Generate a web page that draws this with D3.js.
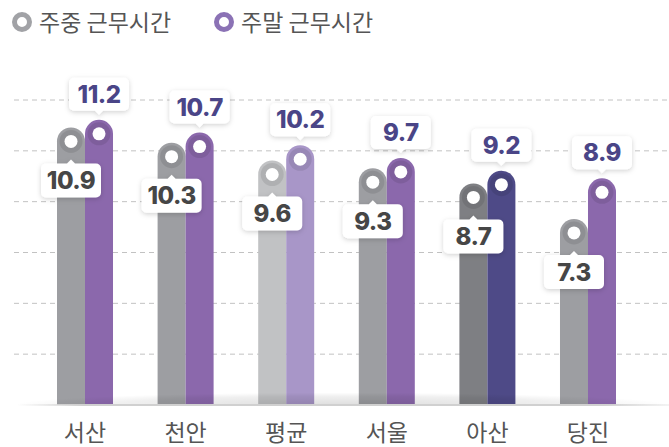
<!DOCTYPE html>
<html>
<head>
<meta charset="utf-8">
<script src="https://cdn.jsdelivr.net/npm/d3@7/dist/d3.min.js"></script>
<style>
  html, body { margin: 0; padding: 0; background: #ffffff; }
  svg { display: block; }
</style>
</head>
<body>
<script>
// ---- data ----
const categories = ['서산', '천안', '평균', '서울', '아산', '당진'];
const weekdayHours = [10.9, 10.3, 9.6, 9.3, 8.7, 7.3];
const weekendHours = [11.2, 10.7, 10.2, 9.7, 9.2, 8.9];
const seriesNames = ['주중 근무시간', '주말 근무시간'];
const gridTicks = [2, 4, 6, 8, 10, 12];

// ---- styles ----
const weekdayColors = ['#9d9ea2', '#9d9ea2', '#c1c2c4', '#9d9ea2', '#7e7f83', '#9d9ea2'];
const weekendColors = ['#8b68ac', '#8b68ac', '#a896c8', '#8b68ac', '#4e4a87', '#8b68ac'];
const legendColors = ['#a1a2a6', '#8b72b5'];

const W = 669, H = 447;
const svg = d3.select('body').append('svg').attr('width', W).attr('height', H);
const defs = svg.append('defs');

const shadow = defs.append('filter').attr('id', 'shadow')
  .attr('x', '-30%').attr('y', '-30%').attr('width', '160%').attr('height', '170%');
shadow.append('feDropShadow').attr('dx', 0).attr('dy', 1.5).attr('stdDeviation', 2.5)
  .attr('flood-color', '#000').attr('flood-opacity', 0.18);

const ground = defs.append('radialGradient').attr('id', 'ground')
  .attr('cx', '50%').attr('cy', '100%').attr('r', '50%');
ground.append('stop').attr('offset', '0%').attr('stop-color', '#000').attr('stop-opacity', 0.13);
ground.append('stop').attr('offset', '70%').attr('stop-color', '#000').attr('stop-opacity', 0.06);
ground.append('stop').attr('offset', '100%').attr('stop-color', '#000').attr('stop-opacity', 0);

const baseGrad = defs.append('linearGradient').attr('id', 'baseline').attr('x1', '0%').attr('x2', '100%');
baseGrad.append('stop').attr('offset', '0%').attr('stop-color', '#d8d8d8').attr('stop-opacity', 0);
baseGrad.append('stop').attr('offset', '10%').attr('stop-color', '#d0d0d0').attr('stop-opacity', 1);
baseGrad.append('stop').attr('offset', '90%').attr('stop-color', '#d0d0d0').attr('stop-opacity', 1);
baseGrad.append('stop').attr('offset', '100%').attr('stop-color', '#d8d8d8').attr('stop-opacity', 0.3);

// ---- scales ----
const x = d3.scaleBand().domain(categories).range([34.7, 638.3])
  .paddingInner(0.4433).paddingOuter(0.2217);
const xs = d3.scaleBand().domain([0, 1]).range([0, x.bandwidth()]);
const y = d3.scaleLinear().domain([0, 12]).range([404.5, 99.5]);

// ---- grid ----
const grid = svg.append('g').attr('transform', 'translate(14,0)')
  .call(d3.axisRight(y).tickValues(gridTicks).tickSize(W - 14).tickFormat(''));
grid.select('.domain').remove();
grid.selectAll('.tick line').attr('stroke', '#c2c2c2').attr('stroke-dasharray', '5,4').attr('stroke-width', 1);

// ---- bars ----
function barPath(x0, w, top, base) {
  const r = w / 2;
  return `M${x0},${base}L${x0},${top + r}A${r},${r} 0 0 1 ${x0 + w},${top + r}L${x0 + w},${base}Z`;
}

const rows = categories.map((c, i) => ({
  cat: c,
  vals: [
    { s: 0, v: weekdayHours[i], color: weekdayColors[i] },
    { s: 1, v: weekendHours[i], color: weekendColors[i] }
  ]
}));

const groups = svg.append('g').selectAll('g').data(rows).join('g')
  .attr('transform', d => `translate(${x(d.cat)},0)`);

const bw = xs.bandwidth();
groups.selectAll('path.bar').data(d => d.vals).join('path')
  .attr('class', 'bar')
  .attr('d', d => barPath(xs(d.s), bw, y(d.v), y(0)))
  .attr('fill', d => d.color);

// halo + marker
groups.selectAll('circle.halo').data(d => d.vals).join('circle')
  .attr('class', 'halo')
  .attr('cx', d => xs(d.s) + bw / 2).attr('cy', d => y(d.v) + bw / 2)
  .attr('r', 11.5).attr('fill', '#000').attr('fill-opacity', 0.09);
groups.selectAll('circle.dot').data(d => d.vals).join('circle')
  .attr('class', 'dot')
  .attr('cx', d => xs(d.s) + bw / 2).attr('cy', d => y(d.v) + bw / 2)
  .attr('r', 6.5).attr('fill', '#fff');

// ground shadow
svg.append('rect').attr('x', 14).attr('y', 380).attr('width', W - 14).attr('height', 25)
  .attr('fill', 'url(#ground)');
svg.append('rect').attr('x', 17).attr('y', y(0) - 0.5).attr('width', W - 17).attr('height', 2)
  .attr('fill', 'url(#baseline)');

// ---- labels ----
const boxW = 60;
const numFont = 'Inter, Lato, "Open Sans", sans-serif';
// weekend labels (above)
const lblTop = groups.selectAll('g.lw').data(d => [d.vals[1]]).join('g').attr('class', 'lw')
  .attr('transform', d => `translate(${xs(d.s) + bw / 2},${y(d.v) - 9})`);
lblTop.append('path')
  .attr('d', `M${-boxW / 2 + 5},-33H${boxW / 2 - 5}A5,5 0 0 1 ${boxW / 2},-28V-5A5,5 0 0 1 ${boxW / 2 - 5},0H4L0,4L-4,0H${-boxW / 2 + 5}A5,5 0 0 1 ${-boxW / 2},-5V-28A5,5 0 0 1 ${-boxW / 2 + 5},-33Z`)
  .attr('fill', '#fff').attr('filter', 'url(#shadow)');
lblTop.append('text').attr('y', -16.5).attr('dy', '0.36em').attr('text-anchor', 'middle')
  .attr('font-family', numFont).attr('font-weight', 800).attr('font-size', 24)
  .attr('letter-spacing', -0.5)
  .attr('fill', '#4a4587').text(d => d.v.toFixed(1));

// weekday labels (below marker)
const lblBot = groups.selectAll('g.ld').data(d => [d.vals[0]]).join('g').attr('class', 'ld')
  .attr('transform', d => `translate(${xs(d.s) + bw / 2},${y(d.v) + 36})`);
lblBot.append('path')
  .attr('d', `M${-boxW / 2 + 5},0H-4L0,-4L4,0H${boxW / 2 - 5}A5,5 0 0 1 ${boxW / 2},5V29A5,5 0 0 1 ${boxW / 2 - 5},34H${-boxW / 2 + 5}A5,5 0 0 1 ${-boxW / 2},29V5A5,5 0 0 1 ${-boxW / 2 + 5},0Z`)
  .attr('fill', '#fff').attr('filter', 'url(#shadow)');
lblBot.append('text').attr('y', 17).attr('dy', '0.36em').attr('text-anchor', 'middle')
  .attr('font-family', numFont).attr('font-weight', 800).attr('font-size', 24)
  .attr('letter-spacing', -0.5)
  .attr('fill', '#464646').text(d => d.v.toFixed(1));

// ---- x axis labels ----
const xAxis = svg.append('g').attr('transform', `translate(0,${y(0)})`)
  .call(d3.axisBottom(x).tickSize(0).tickPadding(0));
xAxis.select('.domain').remove();
xAxis.selectAll('text').attr('y', 36).attr('dy', 0)
  .attr('font-family', '"Noto Sans CJK KR", "Noto Sans", sans-serif')
  .attr('font-size', 23).attr('fill', '#555');

// ---- legend ----
const legendX = [22, 224];
const legend = svg.append('g').selectAll('g').data(seriesNames).join('g')
  .attr('transform', (d, i) => `translate(${legendX[i]},22)`);
legend.append('circle').attr('r', 7.5).attr('fill', '#fff')
  .attr('stroke', (d, i) => legendColors[i]).attr('stroke-width', 5);
legend.append('text').attr('x', 17).attr('y', 9)
  .attr('font-family', '"Noto Sans CJK KR", sans-serif').attr('font-size', 23)
  .attr('fill', '#555').text(d => d);
</script>
</body>
</html>
